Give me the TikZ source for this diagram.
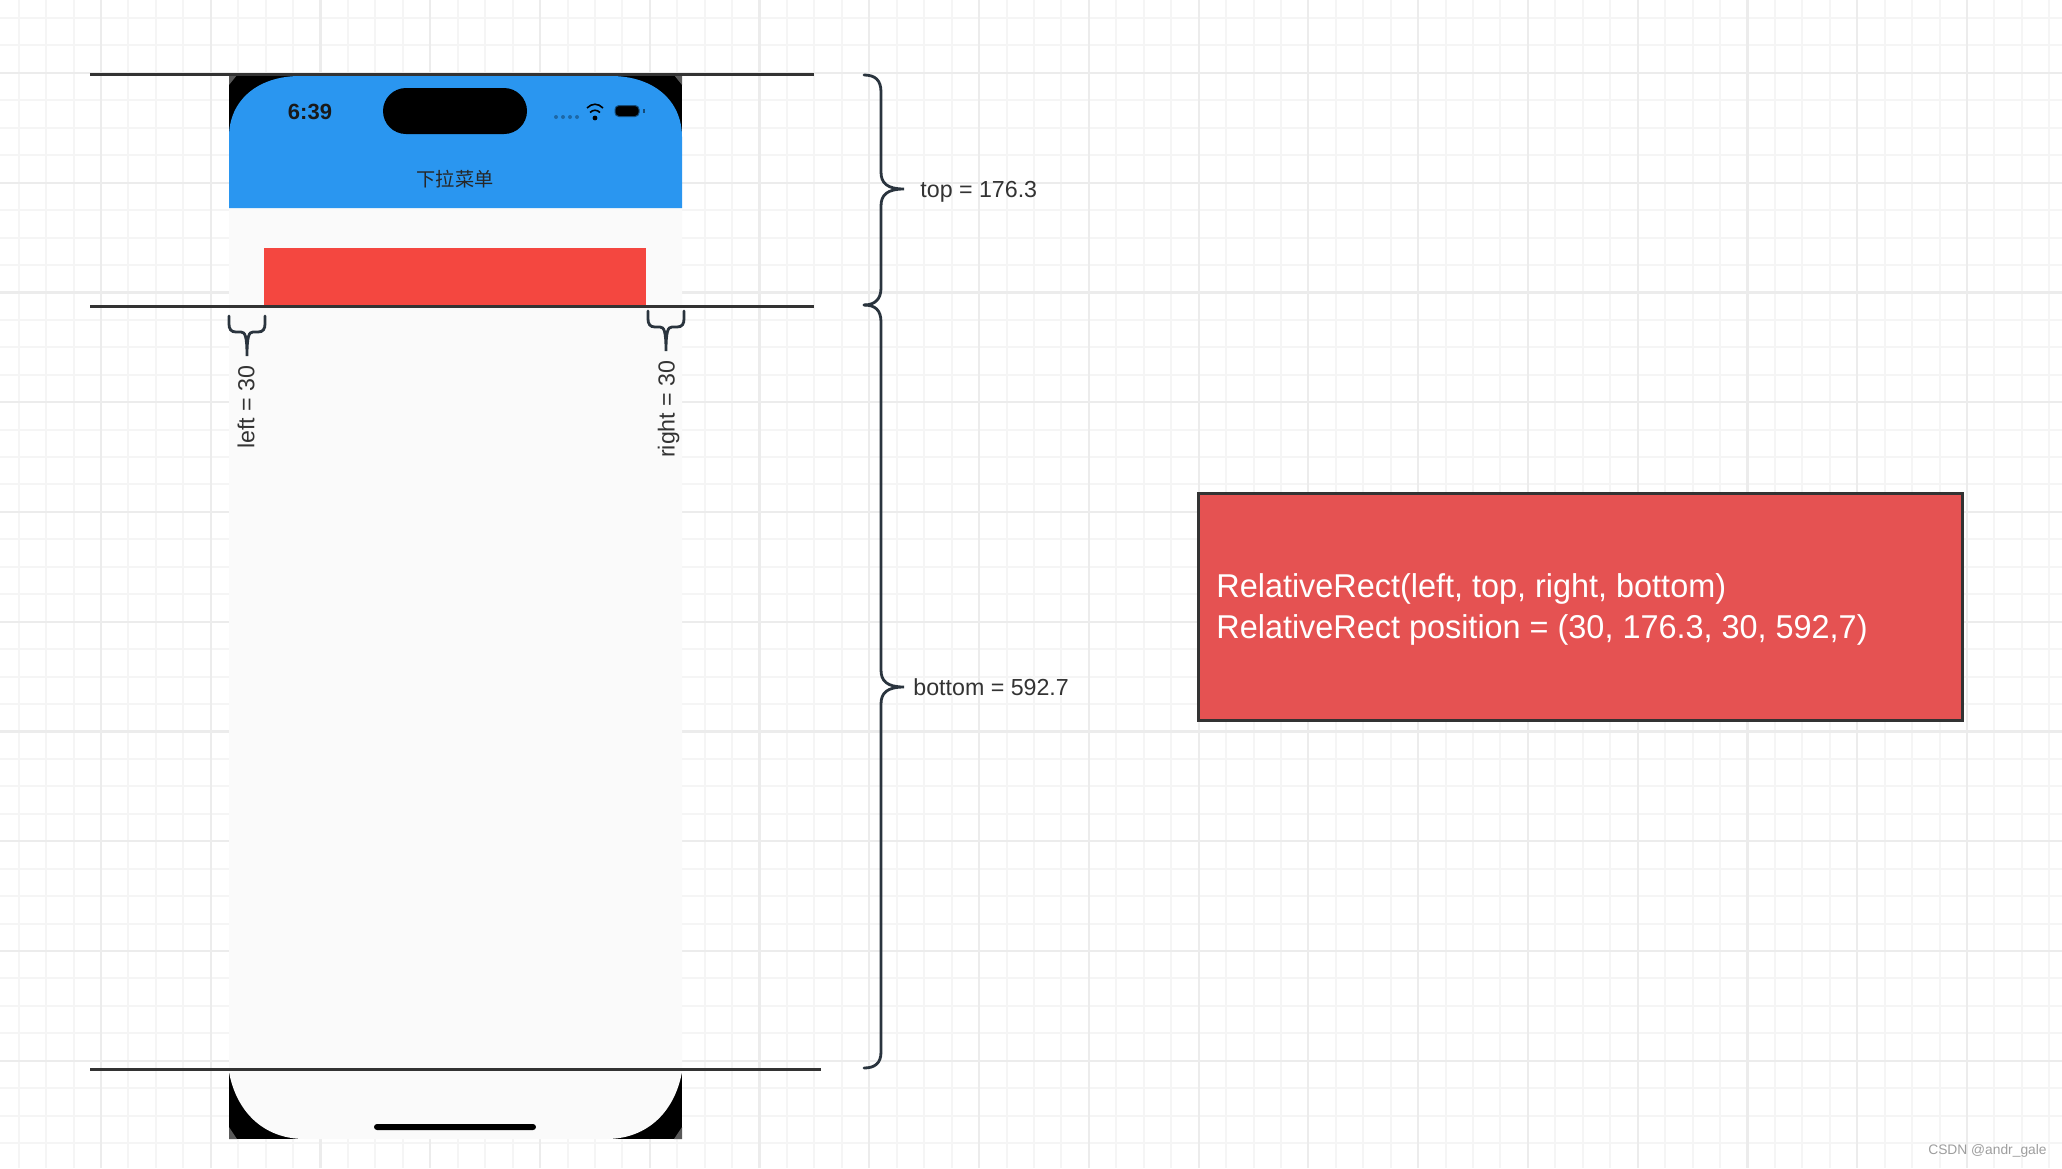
\documentclass[tikz,border=0pt]{standalone}
\usepackage{fontspec}
\setmainfont{Liberation Sans}
\newfontfamily\cjkfont{Noto Sans CJK SC}
\newfontfamily\notefont[FakeStretch=0.982]{Liberation Sans}
\definecolor{gridmajor}{RGB}{236,236,236}
\definecolor{gridminor}{RGB}{245,245,245}
\definecolor{inkdark}{RGB}{51,51,51}
\definecolor{bracedark}{RGB}{42,52,62}
\definecolor{screenblue}{RGB}{42,150,240}
\definecolor{screenbg}{RGB}{250,250,250}
\definecolor{rectred}{RGB}{244,71,64}
\definecolor{noteRed}{RGB}{229,82,82}

\begin{document}
\begin{tikzpicture}[
  x=0.5pt, y=-0.5pt,
  minorl/.style={draw=gridminor, line width=1pt},
  majorl/.style={draw=gridmajor, line width=1.1pt},
  rulel/.style={draw=inkdark, line width=1.4pt},
  bracel/.style={draw=bracedark, line width=1.4pt, line cap=round},
  dimlabel/.style={font=\fontsize{11.6}{14}\selectfont, text=inkdark, inner sep=0pt},
  pillb/.style={fill=black, inner sep=0pt},
]
\useasboundingbox (0,0) rectangle (2062,1168);
\fill[white] (0,0) rectangle (2062,1168);

% Background grid
\foreach \k in {0,...,74} {
  \draw[minorl] ({18.7+27.44*\k},0) -- ({18.7+27.44*\k},1168);
}
\foreach \k in {0,...,42} {
  \draw[minorl] (0,{18+27.44*\k}) -- (2062,{18+27.44*\k});
}
\foreach \k in {0,...,18} {
  \draw[majorl] ({101+109.76*\k},0) -- ({101+109.76*\k},1168);
}
\foreach \k in {0,...,10} {
  \draw[majorl] (0,{73+109.76*\k}) -- (2062,{73+109.76*\k});
}

% Phone body and black corners
\fill[black] (229,75) rectangle (682,150);
\fill[black] (229,1071) rectangle (682,1139);
\fill[black!65] (229,75) -- (237,75) -- (229,85) -- cycle;
\fill[black!65] (682,75) -- (674,75) -- (682,85) -- cycle;
\fill[black!65] (229,1139) -- (237,1139) -- (229,1127) -- cycle;
\fill[black!65] (682,1139) -- (674,1139) -- (682,1127) -- cycle;
\fill[screenbg] (229,208) -- (229,1072) .. controls (236,1110) and (262,1139) .. (305,1139)
  -- (606,1139) .. controls (649,1139) and (675,1110) .. (682,1072) -- (682,208) -- cycle;
\fill[screenblue] (229,208) -- (229,137) .. controls (229,100) and (258,76) .. (300,76)
  -- (611,76) .. controls (653,76) and (682,100) .. (682,137) -- (682,208) -- cycle;

% Status bar
\node[font=\fontsize{11}{13}\selectfont\bfseries, inner sep=0pt, text=black!90] (clock) at (310,112) {6:39};
\node[pillb, rounded corners=11.5pt, minimum width=72pt, minimum height=23pt] (island) at (455,111) {};
\foreach \dx in {556,563,570,577} {
  \fill[black, opacity=0.3] (\dx,117) circle (1pt);
}
\fill[black] (595,118) circle (1.2pt);
\draw[black, line width=0.8pt] (590,112.5) .. controls (593,109.5) and (597,109.5) .. (600,112.5);
\draw[black, line width=0.8pt] (587,108) .. controls (592,103) and (598,103) .. (603,108);
\node[pillb, draw=black!50!screenblue, line width=0.5pt, rounded corners=2pt,
      minimum width=12pt, minimum height=5.5pt] (battery) at (627,111) {};
\fill[black!50!screenblue] (643,109) rectangle (644.5,113);

% Title
\node[font=\fontsize{9.6}{12}\cjkfont, inner sep=0pt, text=black!85] (title) at (455,179) {下拉菜单};

% Red rectangle
\fill[rectred] (264,248) rectangle (646,306);

% Home bar
\node[pillb, rounded corners=1.5pt, minimum width=81pt, minimum height=3pt] (homebar) at (455,1127) {};

% Horizontal rules
\draw[rulel] (90,74.5) -- (814,74.5);
\draw[rulel] (90,306.5) -- (814,306.5);
\draw[rulel] (90,1069.7) -- (821,1069.7);

% Big braces
\draw[bracel] (864,75) .. controls (875,75) and (881,80) .. (881,92) -- (881,172)
  .. controls (881,183) and (887,189) .. (904,189)
  .. controls (887,189) and (881,195) .. (881,206) -- (881,288)
  .. controls (881,299) and (875,305) .. (864,305);
\draw[bracel] (864,305) .. controls (875,305) and (881,310) .. (881,322) -- (881,670)
  .. controls (881,681) and (887,687) .. (904,687)
  .. controls (887,687) and (881,693) .. (881,704) -- (881,1052)
  .. controls (881,1063) and (875,1068) .. (864,1068);

% Small braces
\draw[bracel] (229,316) -- (229,324) .. controls (229,329) and (231,332) .. (236,332) -- (241,332)
  .. controls (245,332) and (247,336) .. (247,356)
  .. controls (247,336) and (249,332) .. (253,332) -- (258,332)
  .. controls (263,332) and (265,329) .. (265,324) -- (265,316);
\draw[bracel] (648,311) -- (648,319) .. controls (648,324) and (650,327) .. (655,327) -- (660,327)
  .. controls (664,327) and (666,331) .. (666,351)
  .. controls (666,331) and (668,327) .. (672,327) -- (677,327)
  .. controls (682,327) and (684,324) .. (684,319) -- (684,311);

% Dimension labels
\node[dimlabel, anchor=west] (toplabel) at (920,192) {top = 176.3};
\node[dimlabel, anchor=west] (bottomlabel) at (913,687) {bottom = 592.7};
\node[dimlabel, rotate=90, anchor=east] (leftlabel) at (246,365) {left = 30};
\node[dimlabel, rotate=90, anchor=east] (rightlabel) at (668.5,360) {right = 30};

% Formula box
\node[draw=inkdark, line width=1.4pt, fill=noteRed,
      minimum width=382pt, minimum height=113.6pt, inner sep=0pt] (formula) at (1580.5,606.7) {};
\node[text=white, align=left, inner sep=0pt, anchor=west,
      font=\fontsize{16.5}{20.5}\notefont] (formulatext) at (1216,609)
  {RelativeRect(left, top, right, bottom)\\
   RelativeRect position = (30, 176.3, 30, 592,7)};

% Watermark
\node[font=\fontsize{6.9}{8}\selectfont, text=black!38, inner sep=0pt, anchor=east] (mark) at (2047,1151) {CSDN @andr\_gale};
\end{tikzpicture}
\end{document}
